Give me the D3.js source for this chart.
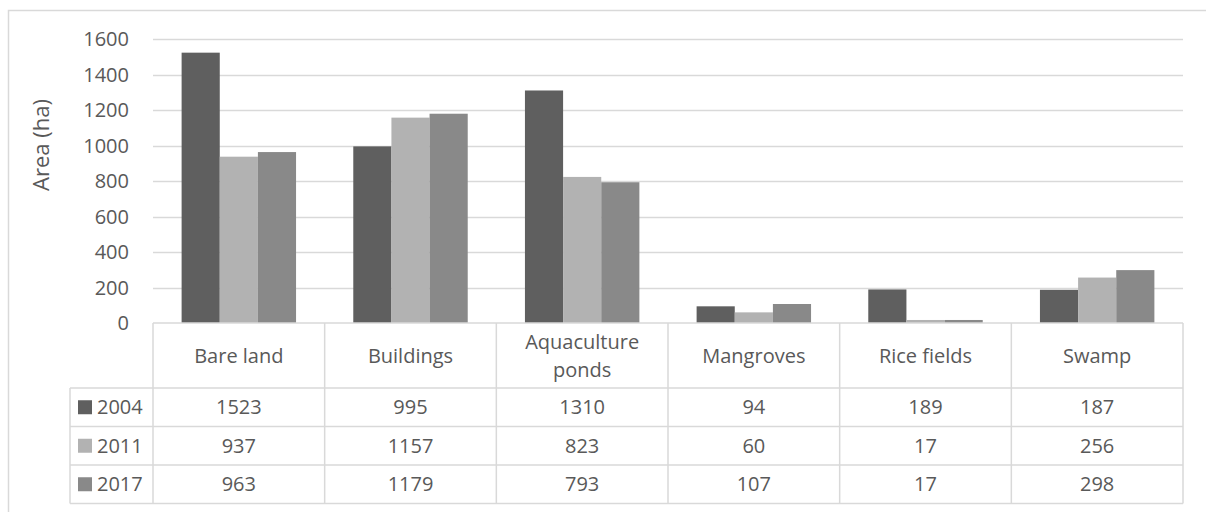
<!DOCTYPE html>
<html>
<head>
  <meta charset="utf-8">
  <script src="https://cdn.jsdelivr.net/npm/d3@7"></script>
  <style>
    body { margin: 0; background: #fff; }
    text { font-family: "Open Sans", sans-serif; fill: #595959; }
  </style>
</head>
<body>
<script>
// land cover classes, one column each in the table
var categories = ["Bare land", "Buildings", "Aquaculture ponds", "Mangroves", "Rice fields", "Swamp"];
var categoryLines = [["Bare land"], ["Buildings"], ["Aquaculture", "ponds"], ["Mangroves"], ["Rice fields"], ["Swamp"]];
var years = ["2004", "2011", "2017"];
var values2004 = [1523, 995, 1310, 94, 189, 187];
var values2011 = [937, 1157, 823, 60, 17, 256];
var values2017 = [963, 1179, 793, 107, 17, 298];
var yTicks = [0, 200, 400, 600, 800, 1000, 1200, 1400, 1600];
var colors = ["#5f5f5f", "#b2b2b2", "#898989"];

var series = [values2004, values2011, values2017];

var W = 1206, H = 512;
var plotLeft = 153, plotRight = 1183, plotTop = 39, base = 323;
var catRowH = 65, rowH = 38.5, legendLeft = 70;

var svg = d3.select("body").append("svg")
  .attr("width", W).attr("height", H);

// outer chart border (only top and left fall inside the picture)
svg.append("rect")
  .attr("x", 8.5).attr("y", 10.5)
  .attr("width", W + 10).attr("height", H + 10)
  .attr("fill", "none").attr("stroke", "#d9d9d9").attr("stroke-width", 1.5);

var x = d3.scaleBand().domain(categories).range([plotLeft, plotRight])
  .paddingInner(1 / 3).paddingOuter(1 / 6);
var xs = d3.scaleBand().domain(years).range([0, x.bandwidth()]);
var y = d3.scaleLinear().domain([0, 1600]).range([base, plotTop]);

// gridlines
svg.append("g").selectAll("line").data(yTicks.filter(function(t) { return t > 0; }))
  .enter().append("line")
  .attr("x1", plotLeft).attr("x2", plotRight)
  .attr("y1", function(d) { return Math.round(y(d)) + 0.5; })
  .attr("y2", function(d) { return Math.round(y(d)) + 0.5; })
  .attr("stroke", "#d9d9d9").attr("stroke-width", 1.5);

// y tick labels
svg.append("g").selectAll("text").data(yTicks).enter().append("text")
  .attr("x", 129).attr("y", function(d) { return y(d); })
  .attr("dy", "0.36em")
  .attr("text-anchor", "end")
  .style("font-size", "20px")
  .text(function(d) { return d; });

// axis title
svg.append("text")
  .attr("transform", "translate(49,145) rotate(-90)")
  .attr("text-anchor", "middle")
  .style("font-size", "22px")
  .text("Area (ha)");

// bars
years.forEach(function(yr, si) {
  svg.append("g").selectAll("rect").data(series[si]).enter().append("rect")
    .attr("x", function(d, i) { return x(categories[i]) + xs(yr); })
    .attr("y", function(d) { return y(d); })
    .attr("width", xs.bandwidth())
    .attr("height", function(d) { return base - y(d); })
    .attr("fill", colors[si]);
});

// data table
var step = x.step();
var tbl = svg.append("g").attr("stroke", "#d9d9d9").attr("stroke-width", 1.5);
var tableBottom = base + catRowH + rowH * 3;
// horizontal lines
tbl.append("line").attr("x1", plotLeft).attr("x2", plotRight).attr("y1", base).attr("y2", base);
for (var r = 0; r <= 3; r++) {
  var yy = base + catRowH + rowH * r;
  tbl.append("line").attr("x1", legendLeft).attr("x2", plotRight).attr("y1", yy).attr("y2", yy);
}
// vertical lines
for (var c = 0; c <= categories.length; c++) {
  var xx = plotLeft + step * c;
  tbl.append("line").attr("x1", xx).attr("x2", xx).attr("y1", base).attr("y2", tableBottom);
}
tbl.append("line").attr("x1", legendLeft).attr("x2", legendLeft)
  .attr("y1", base + catRowH).attr("y2", tableBottom);

// category labels
categoryLines.forEach(function(lines, i) {
  var cx = plotLeft + step * (i + 0.5);
  var cy = base + catRowH / 2;
  var t = svg.append("text").attr("text-anchor", "middle").style("font-size", "20px");
  lines.forEach(function(ln, j) {
    t.append("tspan").attr("x", cx)
      .attr("y", cy + (j - (lines.length - 1) / 2) * 28)
      .attr("dy", "0.36em")
      .text(ln);
  });
});

// legend keys + values
years.forEach(function(yr, si) {
  var cy = base + catRowH + rowH * (si + 0.5);
  svg.append("rect").attr("x", 78).attr("y", cy - 7).attr("width", 14).attr("height", 14)
    .attr("fill", colors[si]);
  svg.append("text").attr("x", 97).attr("y", cy).attr("dy", "0.36em")
    .style("font-size", "20px").text(yr);
  svg.append("g").selectAll("text").data(series[si]).enter().append("text")
    .attr("x", function(d, i) { return plotLeft + step * (i + 0.5); })
    .attr("y", cy).attr("dy", "0.36em")
    .attr("text-anchor", "middle")
    .style("font-size", "20px")
    .text(function(d) { return d; });
});
</script>
</body>
</html>
